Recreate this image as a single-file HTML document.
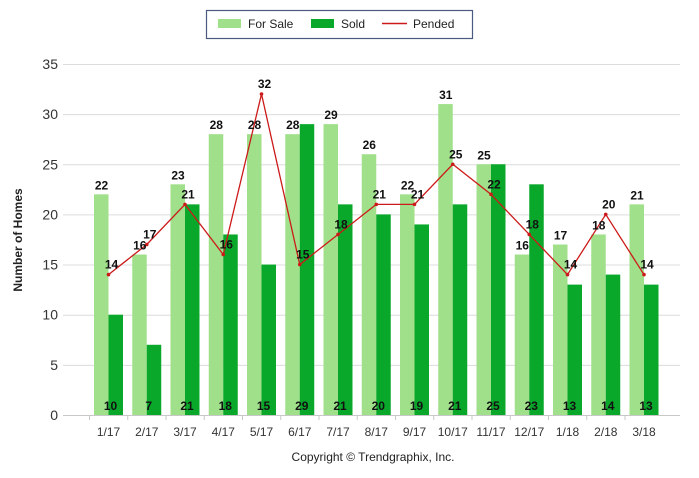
<!DOCTYPE html>
<html><head><meta charset="utf-8"><style>
body{margin:0;background:#fff;font-family:"Liberation Sans",sans-serif}
svg text{font-family:"Liberation Sans",sans-serif}
</style></head><body>
<svg width="699" height="473" viewBox="0 0 699 473">
<g>
<rect x="206.5" y="10.5" width="266" height="28" fill="#fff" stroke="#4a5a80" stroke-width="1.2"/>
<rect x="218" y="19" width="23" height="9" fill="#a0e08a"/><text x="248" y="28" font-size="12" fill="#222">For Sale</text>
<rect x="311" y="19" width="23" height="9" fill="#0aa82a"/><text x="341" y="28" font-size="12" fill="#222">Sold</text>
<line x1="382" y1="23.5" x2="407" y2="23.5" stroke="#cc1a1a" stroke-width="1.5"/><text x="413" y="28" font-size="12" fill="#222">Pended</text>
</g>
<text transform="translate(22,240) rotate(-90)" text-anchor="middle" font-size="12" font-weight="bold" fill="#222">Number of Homes</text>
<g id="grid"></g><g id="bars"></g><g id="line"></g><g id="labels"></g>
<text x="373" y="461" text-anchor="middle" font-size="12" fill="#222">Copyright © Trendgraphix, Inc.</text>
</svg>
<script>
const categories=["1/17","2/17","3/17","4/17","5/17","6/17","7/17","8/17","9/17","10/17","11/17","12/17","1/18","2/18","3/18"];
const forSale=[22,16,23,28,28,28,29,26,22,31,25,16,17,18,21];
const sold=[10,7,21,18,15,29,21,20,19,21,25,23,13,14,13];
const pended=[14,17,21,16,32,15,18,21,21,25,22,18,14,20,14];
const yTicks=[0,5,10,15,20,25,30,35];
const NS="http://www.w3.org/2000/svg";
const y=v=>415-v*10.03;
const x=i=>108.5+i*38.25;
function mk(tag,attrs,parent,txt){const e=document.createElementNS(NS,tag);for(const k in attrs)e.setAttribute(k,attrs[k]);if(txt!=null)e.textContent=txt;document.getElementById(parent).appendChild(e);return e;}
yTicks.forEach(t=>{
 const l=mk('line',{x1:63,x2:680,y1:y(t)+.5,y2:y(t)+.5,stroke:t===0?'#c8c8c8':'#dcdcdc','stroke-width':1},'grid');
 
 
 const tx=mk('text',{x:58,y:y(t)+5,'text-anchor':'end','font-size':14,fill:'#333'},'grid',t);
 
 
});
categories.forEach((c,i)=>{
 const tk=mk('line',{x1:x(i)-19,x2:x(i)-19,y1:415,y2:420,stroke:'#c8c8c8'},'grid');
 
 
 const tl=mk('text',{x:x(i),y:436,'text-anchor':'middle','font-size':12,fill:'#333'},'grid',c);
 
 
 const b1=mk('rect',{x:x(i)-14.5,y:y(forSale[i]),width:14.5,height:y(0)-y(forSale[i]),fill:'#a0e08a'},'bars');
 
 
 const b2=mk('rect',{x:x(i),y:y(sold[i]),width:14.5,height:y(0)-y(sold[i]),fill:'#0aa82a'},'bars');
 
 
 const l1=mk('text',{x:x(i)-7,y:y(forSale[i])-5,'text-anchor':'middle','font-size':12,'font-weight':'bold',fill:'#111'},'labels',forSale[i]);
 
 
 const l2=mk('text',{x:x(i)+2,y:410,'text-anchor':'middle','font-size':12,'font-weight':'bold',fill:'#111'},'labels',sold[i]);
 
 
 const l3=mk('text',{x:x(i)+3,y:y(pended[i])-6,'text-anchor':'middle','font-size':12,'font-weight':'bold',fill:'#111'},'labels',pended[i]);
 
 
});
const pl=mk('polyline',{points:pended.map((v,i)=>x(i)+','+y(v)).join(' '),fill:'none',stroke:'#cc1a1a','stroke-width':1.3},'line');


pended.forEach((v,i)=>{
 const d=mk('circle',{cx:x(i),cy:y(v),r:1.8,fill:'#cc1a1a'},'line');
 
 
});
</script>
</body></html>
